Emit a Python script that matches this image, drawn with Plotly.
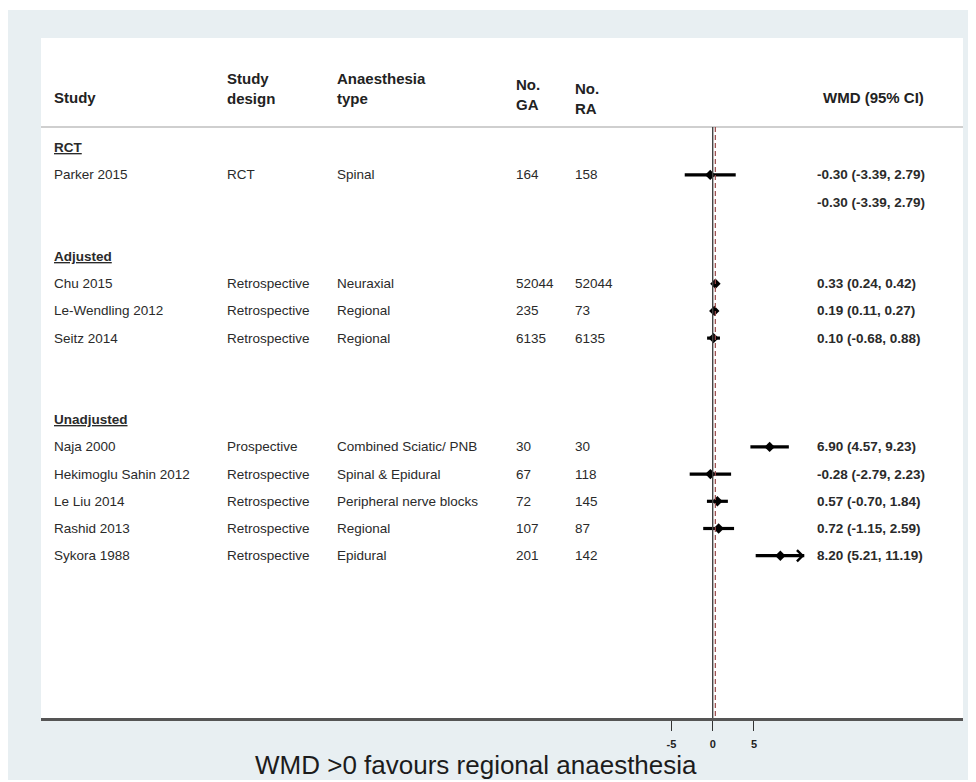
import plotly.graph_objects as go

# ---------------- data ----------------
groups = ["RCT", "Adjusted", "Unadjusted"]
group_rows = [0, 4, 10]

studies = ["Parker 2015", "Chu 2015", "Le-Wendling 2012", "Seitz 2014",
           "Naja 2000", "Hekimoglu Sahin 2012", "Le Liu 2014", "Rashid 2013", "Sykora 1988"]
study_rows = [1, 5, 6, 7, 11, 12, 13, 14, 15]
design = ["RCT", "Retrospective", "Retrospective", "Retrospective",
          "Prospective", "Retrospective", "Retrospective", "Retrospective", "Retrospective"]
anaesthesia = ["Spinal", "Neuraxial", "Regional", "Regional",
               "Combined Sciatic/ PNB", "Spinal & Epidural", "Peripheral nerve blocks", "Regional", "Epidural"]
n_ga = [164, 52044, 235, 6135, 30, 67, 72, 107, 201]
n_ra = [158, 52044, 73, 6135, 30, 118, 145, 87, 142]
wmd = [-0.30, 0.33, 0.19, 0.10, 6.90, -0.28, 0.57, 0.72, 8.20]
ci_lo = [-3.39, 0.24, 0.11, -0.68, 4.57, -2.79, -0.70, -1.15, 5.21]
ci_hi = [2.79, 0.42, 0.27, 0.88, 9.23, 2.23, 1.84, 2.59, 11.19]

subtotal_rows = [2]
subtotal_wmd = [-0.30]
subtotal_lo = [-3.39]
subtotal_hi = [2.79]

overall_effect = 0.32
tick_vals = [-5, 0, 5]
tick_labels = ["-5", "0", "5"]
x_title = "WMD >0 favours regional anaesthesia"
headers = ["Study", "Study<br>design", "Anaesthesia<br>type", "No.<br>GA", "No.<br>RA", "WMD (95% CI)"]

# ---------------- layout geometry (page pixels) ----------------
OFF = 8                      # body margin of the page
FIG_W, FIG_H = 968, 772
PL, PR, PT, PB = 41, 963, 38, 718
X0_PX, PX_PER_UNIT = 712.7, 8.25
ROW0_PX, ROW_PX = 147.7, 27.2
FOREST_XMAX = 11.1

x_range = [(PL - X0_PX) / PX_PER_UNIT, (PR - X0_PX) / PX_PER_UNIT]
y_range = [(PB - ROW0_PX) / ROW_PX, (PT - ROW0_PX) / ROW_PX]


def pxx(px):
    return (px - PL) / (PR - PL)


def pxy(py):
    return (PB - py) / (PB - PT)


def row_px(r):
    return ROW0_PX + ROW_PX * r


FONT = "Liberation Sans, Arial, sans-serif"
TXT = "#2a2a2a"

fig = go.Figure()
ann = []

# CI lines
cx, cy = [], []
for r, lo, hi in zip(study_rows, ci_lo, ci_hi):
    cx += [lo, min(hi, FOREST_XMAX), None]
    cy += [r, r, None]
fig.add_trace(go.Scatter(x=cx, y=cy, mode="lines", line=dict(color="black", width=3.2),
                         hoverinfo="skip", showlegend=False))
# arrows for clipped CIs (open chevron)
for r, lo, hi in zip(study_rows, ci_lo, ci_hi):
    if hi > FOREST_XMAX:
        ann.append(dict(x=FOREST_XMAX, y=r, ax=FOREST_XMAX - 1.5, ay=r,
                        xref="x", yref="y", axref="x", ayref="y",
                        showarrow=True, arrowhead=4, arrowsize=0.9, arrowwidth=2.4,
                        arrowcolor="black", text=""))
# point estimates
fig.add_trace(go.Scatter(x=wmd, y=study_rows, mode="markers",
                         marker=dict(symbol="diamond", size=8, color="black"),
                         hoverinfo="skip", showlegend=False))

shapes = []
# background: gray frame then white panel
shapes.append(dict(type="rect", xref="paper", yref="paper", layer="below",
                   x0=pxx(OFF), x1=pxx(OFF + FIG_W), y0=pxy(OFF + FIG_H), y1=pxy(10),
                   fillcolor="#e8eff2", line=dict(width=0)))
shapes.append(dict(type="rect", xref="paper", yref="paper", layer="below",
                   x0=0, x1=1, y0=0, y1=1, fillcolor="white", line=dict(width=0)))
# header separator
shapes.append(dict(type="line", xref="paper", yref="paper", x0=0, x1=1,
                   y0=pxy(127), y1=pxy(127), line=dict(color="#cfcfcf", width=2)))
# reference line at 0
sep_row = (127 - ROW0_PX) / ROW_PX
shapes.append(dict(type="line", xref="x", yref="y", x0=0, x1=0, y0=sep_row, y1=y_range[0],
                   line=dict(color="#444444", width=1.4)))
# overall effect dashed line
shapes.append(dict(type="line", xref="x", yref="y", x0=overall_effect, x1=overall_effect,
                   y0=sep_row, y1=y_range[0], line=dict(color="#9a4a4a", width=1.2, dash="5px,3px")))


def add_text(text, px, py, anchor="left", size=13.5, bold=False, under=False, color=TXT):
    f = dict(family=FONT, size=size, color=color)
    if bold:
        f["weight"] = "bold"
    if under:
        f["lineposition"] = "under"
    ann.append(dict(text=text, x=pxx(px), y=pxy(py), xref="paper", yref="paper",
                    xanchor=anchor, yanchor="middle", showarrow=False, font=f, align="left"))


# headers
hdr_pos = [(52, 97), (225, 89), (335, 89), (514, 94), (573, 98)]
for h, (hx, hy) in zip(headers[:5], hdr_pos):
    add_text(h, hx, hy, size=15, bold=True, color="#222222")
add_text(headers[5], 926, 97, anchor="right", size=15, bold=True, color="#222222")

COLS = [52, 225, 335, 514, 573, 815]
for g, r in zip(groups, group_rows):
    add_text(g, COLS[0], row_px(r), bold=True, under=True)
for i, r in enumerate(study_rows):
    y = row_px(r)
    add_text(studies[i], COLS[0], y)
    add_text(design[i], COLS[1], y)
    add_text(anaesthesia[i], COLS[2], y)
    add_text(str(n_ga[i]), COLS[3], y)
    add_text(str(n_ra[i]), COLS[4], y)
    add_text(f"{wmd[i]:.2f} ({ci_lo[i]:.2f}, {ci_hi[i]:.2f})", COLS[5], y, bold=True)
for r, e, lo, hi in zip(subtotal_rows, subtotal_wmd, subtotal_lo, subtotal_hi):
    add_text(f"{e:.2f} ({lo:.2f}, {hi:.2f})", COLS[5], row_px(r), bold=True)

# axis title
add_text(x_title, 476, 765, anchor="center", size=26, color="#1c1c1c")

fig.update_layout(
    width=FIG_W, height=FIG_H,
    margin=dict(l=PL - OFF, r=OFF + FIG_W - PR, t=PT - OFF, b=OFF + FIG_H - PB, pad=0),
    paper_bgcolor="white", plot_bgcolor="rgba(0,0,0,0)",
    shapes=shapes, annotations=ann, showlegend=False,
    xaxis=dict(range=x_range, tickvals=tick_vals, ticktext=[f"<b>{t}</b>" for t in tick_labels],
               showgrid=False, zeroline=False, showline=True, linecolor="#555555", linewidth=2.5,
               ticks="outside", ticklen=10, tickcolor="#333333", tickwidth=1.2,
               tickfont=dict(family=FONT, size=11, color="#222222"), ticklabelstandoff=4,
               fixedrange=True),
    yaxis=dict(range=y_range, visible=False, fixedrange=True),
)

fig.write_html("out.html")
